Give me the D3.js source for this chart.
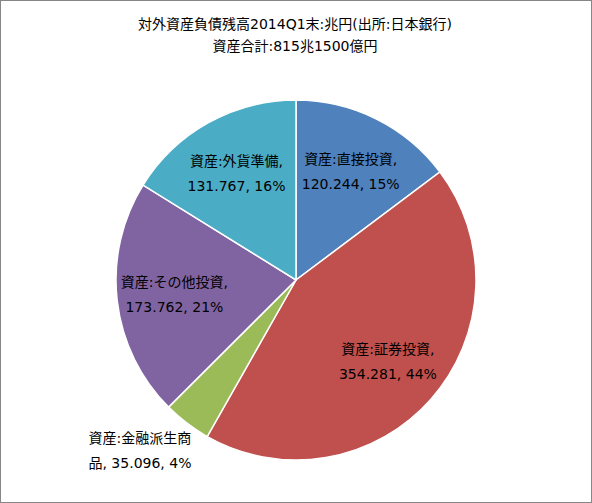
<!DOCTYPE html>
<html>
<head>
<meta charset="utf-8">
<script src="https://cdn.jsdelivr.net/npm/d3@7/dist/d3.min.js"></script>
<style>
  html, body { margin: 0; padding: 0; background: #fff; }
  svg { display: block; }
  text { font-family: "DejaVu Sans", "Noto Sans CJK JP", sans-serif; fill: #000; }
</style>
</head>
<body>
<svg id="chart" width="592" height="503"></svg>
<script>
const titleLines = ["対外資産負債残高2014Q1末:兆円(出所:日本銀行)", "資産合計:815兆1500億円"];
const categories = ["資産:直接投資", "資産:証券投資", "資産:金融派生商品", "資産:その他投資", "資産:外貨準備"];
const values = [120.244, 354.281, 35.096, 173.762, 131.767];
const percents = ["15%", "44%", "4%", "21%", "16%"];
const colors = ["#4F81BD", "#C0504D", "#9BBB59", "#8064A2", "#4BACC6"];

const W = 592, H = 503;
const svg = d3.select("#chart");
svg.append("rect").attr("x", 0.5).attr("y", 0.5).attr("width", W - 1).attr("height", H - 1)
  .attr("fill", "#fff").attr("stroke", "#868686").attr("stroke-width", 1);

svg.selectAll("text.title").data(titleLines).enter().append("text")
  .attr("class", "title")
  .attr("x", 295).attr("y", (d, i) => 29 + i * 22)
  .attr("text-anchor", "middle").attr("font-size", 14)
  .text(d => d);

const cx = 296, cy = 280, r = 180;
const data = categories.map((c, i) => ({ name: c, value: values[i], pct: percents[i], color: colors[i] }));
const pie = d3.pie().value(d => d.value).sort(null).startAngle(0).endAngle(2 * Math.PI);
const arcs = pie(data);
const arc = d3.arc().innerRadius(0).outerRadius(r);
const labelArc = d3.arc().innerRadius(r * 0.68).outerRadius(r * 0.68);
const outerArc = d3.arc().innerRadius(r * 1.1).outerRadius(r * 1.1);

const g = svg.append("g").attr("transform", `translate(${cx},${cy})`);
g.selectAll("path").data(arcs).enter().append("path")
  .attr("d", arc).attr("fill", d => d.data.color)
  .attr("stroke", "#fff").attr("stroke-width", 1.5);

const fmt = v => v.toFixed(3);
arcs.forEach(a => {
  const small = (a.endAngle - a.startAngle) < 0.35;
  let lines, x, y;
  if (small) {
    const p = outerArc.centroid(a);
    x = p[0] - 36; y = p[1] + 6;
    const full = a.data.name;
    lines = [full.slice(0, full.length - 1), full.slice(full.length - 1) + ", " + fmt(a.data.value) + ", " + a.data.pct];
  } else {
    const p = labelArc.centroid(a);
    x = p[0]; y = p[1] - 7;
    lines = [a.data.name + ",", fmt(a.data.value) + ", " + a.data.pct];
  }
  const t = g.append("text").attr("text-anchor", "middle").attr("font-size", 14);
  lines.forEach((l, i) => {
    t.append("tspan").attr("x", x).attr("y", y + i * 25).text(l);
  });
});
</script>
</body>
</html>
